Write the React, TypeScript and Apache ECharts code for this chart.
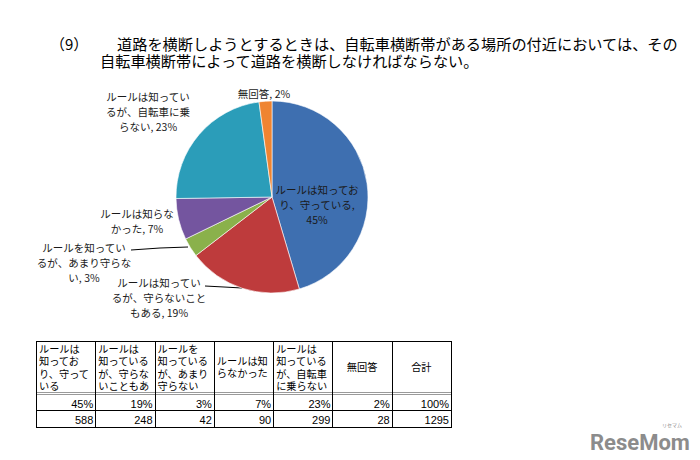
import React, { useEffect, useRef } from "react";
import * as echarts from "echarts";

const categories = [
  "ルールは知っており、守っている",
  "ルールは知っているが、守らないこともある",
  "ルールを知っているが、あまり守らない",
  "ルールは知らなかった",
  "ルールは知っているが、自転車に乗らない",
  "無回答",
];
const counts = [588, 248, 42, 90, 299, 28];
const percents = [45, 19, 3, 7, 23, 2];
const totalCount = 1295;
const totalPercent = 100;
const pieLabelNames = [
  "ルールは知ってお\nり、守っている",
  "ルールは知ってい\nるが、守らないこと\nもある",
  "ルールを知ってい\nるが、あまり守らな\nい",
  "ルールは知らな\nかった",
  "ルールは知ってい\nるが、自転車に乗\nらない",
  "無回答",
];
const headerTexts = [
  "ルールは\n知ってお\nり、守って\nいる",
  "ルールは\n知っている\nが、守らな\nいこともあ",
  "ルールを\n知っている\nが、あまり\n守らない",
  "ルールは知\nらなかった",
  "ルールは\n知っている\nが、自転車\nに乗らない",
  "無回答",
  "合計",
];
const titleLine1Num = "（9）";
const titleLine1 = "道路を横断しようとするときは、自転車横断帯がある場所の付近においては、その";
const titleLine2 = "自転車横断帯によって道路を横断しなければならない。";

const colors = ["#3E6FB0", "#BE3B3C", "#8AB14B", "#74559F", "#2B9DB9", "#EF8431"];

// label layout (positions only)
const labelPos = [
  { x: 317, y: 204 },
  { x: 159, y: 297 },
  { x: 84, y: 262 },
  { x: 137, y: 221 },
  { x: 148, y: 111 },
  { x: 264, y: 93 },
];
const leaderLines: Record<number, number[][]> = {
  1: [[242, 288], [224, 287], [205, 286]],
  2: [[188, 247], [160, 248], [131, 250]],
};

const CJK = '"Noto Sans CJK JP", "Noto Sans", sans-serif';
const NUM = '"Liberation Sans", Arial, sans-serif';

export default function App() {
  const ref = useRef<HTMLDivElement>(null);
  useEffect(() => {
    if (!ref.current) return;
    const chart = echarts.init(ref.current, null, { renderer: "svg" });

    const tx0 = 36;
    const tx1 = 451;
    const nCols = headerTexts.length;
    const colW = (tx1 - tx0) / nCols;
    const hTop = 341;
    const hBot = 392;
    const r1Top = 395;
    const r2Top = 410;
    const r2Bot = 427;
    const g: any[] = [];
    g.push({ type: "rect", shape: { x: tx0, y: hTop, width: tx1 - tx0, height: 1 }, style: { fill: "#000" } });
    g.push({ type: "rect", shape: { x: tx0, y: hBot, width: tx1 - tx0, height: 3 }, style: { fill: "#9a9a9a" } });
    g.push({ type: "rect", shape: { x: tx0, y: hBot + 1, width: tx1 - tx0, height: 1 }, style: { fill: "#fff" } });
    g.push({ type: "rect", shape: { x: tx0, y: r2Top, width: tx1 - tx0, height: 1 }, style: { fill: "#000" } });
    g.push({ type: "rect", shape: { x: tx0, y: r2Bot, width: tx1 - tx0, height: 1 }, style: { fill: "#000" } });
    for (let i = 0; i <= nCols; i++) {
      const x = Math.round(tx0 + i * colW);
      g.push({ type: "rect", shape: { x, y: hTop, width: 1, height: r2Bot - hTop + 1 }, style: { fill: "#000" } });
    }
    for (let i = 0; i < nCols; i++) {
      const x = tx0 + i * colW;
      const lines = headerTexts[i].split("\n").length;
      const centered = i >= 5;
      g.push({
        type: "text",
        x: centered ? x + colW / 2 : x + 3,
        y: lines === 4 ? hTop + 1 : (hTop + hBot) / 2,
        style: {
          text: headerTexts[i],
          fontFamily: CJK,
          fontSize: 10.2,
          lineHeight: 12.5,
          fill: "#000",
          align: centered ? "center" : "left",
          verticalAlign: lines === 4 ? "top" : "middle",
        },
      });
      const pctText = i < percents.length ? percents[i] + "%" : totalPercent + "%";
      const cntText = i < counts.length ? String(counts[i]) : String(totalCount);
      g.push({
        type: "text",
        x: x + colW - 2,
        y: (r1Top + r2Top) / 2 + 1,
        style: { text: pctText, fontFamily: NUM, fontSize: 11, fill: "#000", align: "right", verticalAlign: "middle" },
      });
      g.push({
        type: "text",
        x: x + colW - 2,
        y: (r2Top + r2Bot) / 2 + 1,
        style: { text: cntText, fontFamily: NUM, fontSize: 11, fill: "#000", align: "right", verticalAlign: "middle" },
      });
    }
    g.push({ type: "text", x: 50, y: 43, style: { text: titleLine1Num, fontFamily: CJK, fontSize: 15, fill: "#000", verticalAlign: "middle" } });
    g.push({ type: "text", x: 117, y: 43, style: { text: titleLine1, fontFamily: CJK, fontSize: 15.2, fill: "#000", verticalAlign: "middle" } });
    g.push({ type: "text", x: 100, y: 60, style: { text: titleLine2, fontFamily: CJK, fontSize: 15.2, fill: "#000", verticalAlign: "middle" } });
    g.push({ type: "text", x: 590, y: 442, style: { text: "ReseMom", fontFamily: "Roboto, sans-serif", fontWeight: "bold", fontSize: 22, fill: "#8c8c8c", verticalAlign: "middle" } });
    g.push({ type: "text", x: 662, y: 424, style: { text: "リセマム", fontFamily: CJK, fontSize: 5, fill: "#8c8c8c", verticalAlign: "middle" } });

    chart.setOption({
      animation: false,
      backgroundColor: "#fff",
      color: colors,
      graphic: g,
      series: [
        {
          type: "pie",
          center: [272, 197],
          radius: [0, 96],
          startAngle: 90,
          clockwise: true,
          itemStyle: { borderColor: "#fff", borderWidth: 0.6 },
          label: {
            show: true,
            position: "outside",
            fontFamily: CJK,
            fontSize: 10.5,
            lineHeight: 15,
            color: "#1a1a1a",
            align: "center",
            formatter: (p: any) => pieLabelNames[p.dataIndex] + (p.dataIndex === 0 ? ",\n" : ", ") + percents[p.dataIndex] + "%",
          },
          labelLine: { show: false },
          labelLayout: (p: any) => {
            const pos = labelPos[p.dataIndex];
            const out: any = { x: pos.x, y: pos.y, align: "center", verticalAlign: "middle" };
            if (leaderLines[p.dataIndex]) out.labelLinePoints = leaderLines[p.dataIndex];
            return out;
          },
          emphasis: { disabled: true },
          data: categories.map((name, i) => ({
            name,
            value: counts[i],
            label: i === 0 ? { position: "inside" } : undefined,
            labelLine: leaderLines[i] ? { show: true, lineStyle: { color: "#000", width: 1 } } : undefined,
          })),
        },
      ],
    });
    return () => chart.dispose();
  }, []);
  return <div ref={ref} style={{ position: "fixed", left: 0, top: 0, width: 700, height: 460 }} />;
}
